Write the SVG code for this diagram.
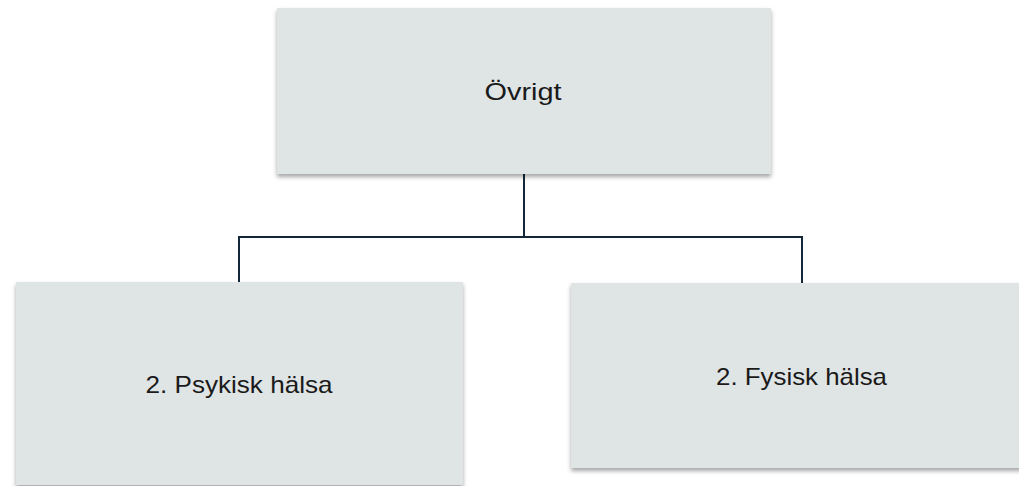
<svg xmlns="http://www.w3.org/2000/svg" width="1019" height="486" viewBox="0 0 1019 486">
<defs>
<filter id="sh" x="-5%" y="-5%" width="110%" height="120%">
<feDropShadow dx="0" dy="3" stdDeviation="2" flood-color="#000" flood-opacity="0.35"/>
</filter>
<style>
.box{fill:#DFE4E5;filter:url(#sh);}
.lbl{font-family:"Liberation Sans",Arial,sans-serif;font-size:24px;fill:#1a1a1a;text-anchor:middle;}
.conn{fill:none;stroke:#12283a;stroke-width:2;}
</style>
</defs>
<rect width="1019" height="486" fill="#ffffff"/>
<g id="connectors">
<path class="conn" d="M524,174 V237 M239,283 V237 H802 V283"/>
</g>
<g id="node-ovrigt">
<rect class="box" x="277" y="8" width="494" height="166"/>
<text class="lbl" x="523" y="100" textLength="77" lengthAdjust="spacingAndGlyphs">Övrigt</text>
</g>
<g id="node-psykisk">
<rect class="box" x="16" y="282" width="447" height="203"/>
<text class="lbl" x="239" y="393" textLength="187" lengthAdjust="spacingAndGlyphs">2. Psykisk hälsa</text>
</g>
<g id="node-fysisk">
<rect class="box" x="571" y="283" width="461" height="185"/>
<text class="lbl" x="801.5" y="385" textLength="171" lengthAdjust="spacingAndGlyphs">2. Fysisk hälsa</text>
</g>
</svg>
